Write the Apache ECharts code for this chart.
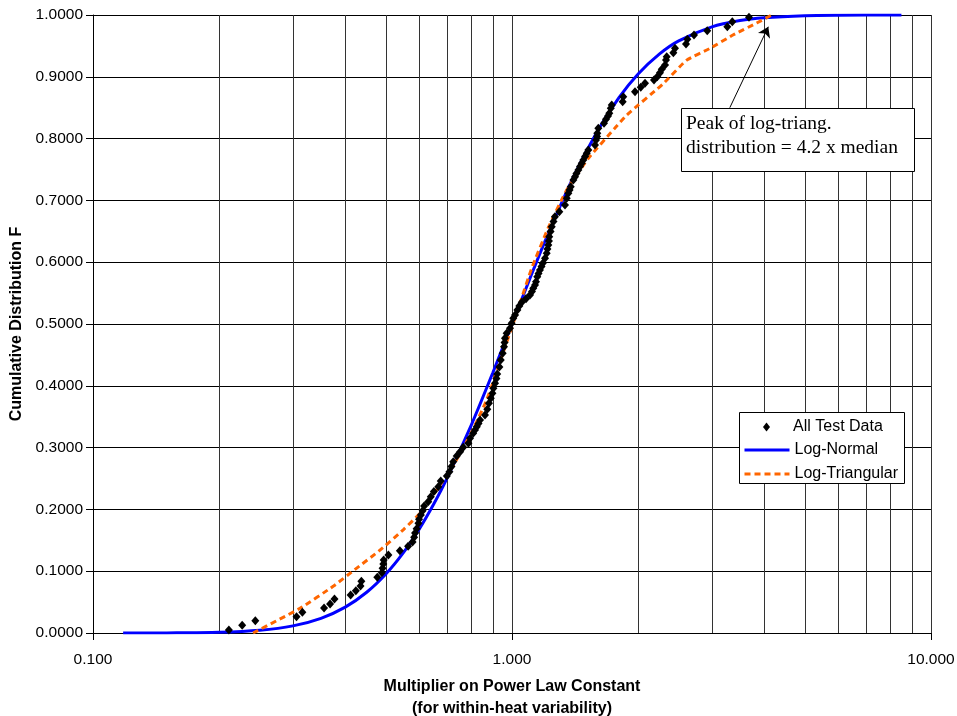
<!DOCTYPE html>
<html>
<head>
<meta charset="utf-8">
<script src="https://cdn.jsdelivr.net/npm/echarts@6/dist/echarts.min.js"></script>
<style>
html,body{margin:0;padding:0;background:#fff;}
#chart{width:957px;height:716px;}
</style>
</head>
<body>
<div id="chart"></div>
<script>
// ---- Data ----
const testX = [0.211,0.227,0.244,0.306,0.316,0.356,0.368,0.377,0.412,0.424,
0.435,0.437,0.477,0.489,0.491,0.493,0.494,0.507,0.540,0.565,
0.579,0.584,0.587,0.592,0.598,0.600,0.606,0.612,0.617,0.631,
0.640,0.651,0.667,0.676,0.699,0.709,0.717,0.724,0.738,0.752,
0.765,0.787,0.794,0.808,0.816,0.824,0.832,0.839,0.862,0.873,
0.881,0.890,0.898,0.903,0.911,0.918,0.922,0.933,0.940,0.950,
0.957,0.960,0.962,0.971,0.989,0.998,1.007,1.017,1.030,1.041,
1.055,1.080,1.104,1.116,1.124,1.135,1.141,1.149,1.157,1.166,
1.176,1.184,1.199,1.210,1.215,1.221,1.225,1.227,1.236,1.244,
1.256,1.266,1.297,1.338,1.351,1.363,1.372,1.381,1.401,1.414,
1.425,1.440,1.453,1.467,1.480,1.494,1.508,1.521,1.578,1.587,
1.596,1.598,1.607,1.658,1.676,1.695,1.707,1.721,1.730,1.837,
1.843,1.966,2.029,2.077,2.182,2.222,2.255,2.277,2.319,2.331,
2.340,2.427,2.449,2.602,2.621,2.719,2.924,3.265,3.356,3.678];
const testF = [0.0049,0.0125,0.0199,0.0264,0.0335,0.0405,0.0469,0.0550,0.0615,0.0684,
0.0761,0.0837,0.0901,0.0976,0.1047,0.1117,0.1181,0.1262,0.1332,0.1403,
0.1472,0.1549,0.1618,0.1688,0.1775,0.1840,0.1909,0.1979,0.2055,0.2125,
0.2205,0.2290,0.2367,0.2460,0.2540,0.2610,0.2694,0.2772,0.2864,0.2934,
0.3005,0.3070,0.3150,0.3231,0.3285,0.3338,0.3390,0.3447,0.3528,0.3620,
0.3717,0.3798,0.3879,0.3960,0.4040,0.4118,0.4191,0.4304,0.4417,0.4526,
0.4633,0.4701,0.4769,0.4850,0.4930,0.5011,0.5092,0.5146,0.5227,0.5290,
0.5350,0.5410,0.5469,0.5526,0.5578,0.5631,0.5684,0.5765,0.5817,0.5874,
0.5930,0.5982,0.6063,0.6144,0.6214,0.6278,0.6343,0.6413,0.6497,0.6574,
0.6659,0.6736,0.6817,0.6926,0.7034,0.7115,0.7168,0.7221,0.7330,0.7383,
0.7435,0.7492,0.7549,0.7600,0.7654,0.7710,0.7762,0.7816,0.7896,0.7977,
0.8034,0.8086,0.8167,0.8248,0.8312,0.8366,0.8409,0.8490,0.8544,0.8597,
0.8678,0.8759,0.8830,0.8895,0.8948,0.9002,0.9066,0.9121,0.9191,0.9272,
0.9325,0.9390,0.9461,0.9531,0.9607,0.9676,0.9746,0.9811,0.9891,0.9963];

const logNormalX = [0.118,0.15,0.2,0.25,0.3,0.35,0.4,0.45,0.5,0.55,0.6,0.65,0.7,0.8,0.9,1.0,
1.1,1.2,1.4,1.6,1.8,2.0,2.25,2.5,3.0,3.5,4.0,5.0,6.0,8.5];
const logNormalF = [0.0000,0.0002,0.0012,0.0045,0.0115,0.0238,0.0419,0.0659,0.0955,0.1297,0.1676,0.2082,0.2505,0.3369,0.4212,0.5000,
0.5713,0.6346,0.7373,0.8124,0.8663,0.9045,0.9370,0.9581,0.9809,0.9910,0.9955,0.9988,0.9996,1.0000];

const logTriX = [0.241,0.312,0.375,0.426,0.484,0.550,0.603,0.718,0.794,0.870,0.971,1.045,1.114,
1.221,1.351,1.521,1.761,1.878,2.297,2.612,2.969,3.375,3.837,4.167];
const logTriF = [0.000,0.040,0.076,0.105,0.134,0.167,0.194,0.267,0.320,0.377,0.470,0.534,0.590,
0.656,0.717,0.768,0.817,0.838,0.889,0.927,0.946,0.968,0.987,1.000];

const minorGridX = [0.2,0.3,0.4,0.5,0.6,0.7,0.8,0.9,2,3,4,5,6,7,8,9];
const arrowTail = [3.31, 0.850];
const arrowTip = [4.09, 0.981];

const xAxisTitle = 'Multiplier on Power Law Constant\n(for within-heat variability)';
const yAxisTitle = 'Cumulative Distribution F';
const noteText = 'Peak of log-triang.\ndistribution = 4.2 x median';

// ---- Build chart ----
const zip = (xs, ys) => xs.map((x, i) => [x, ys[i]]);
const SANS = '"Liberation Sans", Arial, sans-serif';
const SERIF = '"Liberation Serif", "Times New Roman", serif';

const chart = echarts.init(document.getElementById('chart'), null, {renderer: 'canvas'});
chart.setOption({
  animation: false,
  backgroundColor: '#fff',
  textStyle: {fontFamily: SANS, color: '#000'},
  grid: {left: 93, right: 26, top: 15, bottom: 83, containLabel: false, outerBoundsMode: 'none'},
  xAxis: {
    type: 'log', logBase: 10, min: 0.1, max: 10,
    name: xAxisTitle, nameLocation: 'middle', nameGap: 43,
    nameTextStyle: {fontFamily: SANS, fontWeight: 'bold', fontSize: 16, lineHeight: 21.5, color: '#000'},
    axisLine: {show: true, lineStyle: {color: '#000', width: 1}},
    axisTick: {show: true, inside: false, length: 7, lineStyle: {color: '#000'}},
    axisLabel: {fontFamily: SANS, fontSize: 15.5, color: '#000', margin: 19,
      formatter: v => Number(v).toFixed(3)},
    splitLine: {show: true, lineStyle: {color: '#333', width: 1}},
    minorTick: {show: false}, minorSplitLine: {show: false}
  },
  yAxis: {
    type: 'value', min: 0, max: 1, interval: 0.1,
    name: yAxisTitle, nameLocation: 'middle', nameGap: 65, nameRotate: 90,
    nameTextStyle: {fontFamily: SANS, fontWeight: 'bold', fontSize: 16, color: '#000'},
    axisLine: {show: true, lineStyle: {color: '#000', width: 1}},
    axisTick: {show: true, inside: false, length: 7, lineStyle: {color: '#000'}},
    axisLabel: {fontFamily: SANS, fontSize: 15.5, color: '#000', margin: 10,
      formatter: v => Number(v).toFixed(4)},
    splitLine: {show: true, lineStyle: {color: '#000', width: 1}}
  },
  legend: [
    {data: ['All Test Data'], left: 763, top: 419, orient: 'vertical', padding: 0,
     itemWidth: 7, itemHeight: 9, icon: 'diamond', selectedMode: false, z: 6,
     itemStyle: {opacity: 1},
     textStyle: {fontFamily: SANS, fontSize: 16, color: '#000', padding: [0, 0, 0, 18]}},
    {data: ['Log-Normal'], left: 743, top: 442, orient: 'vertical', padding: 0,
     itemWidth: 45, itemHeight: 14, selectedMode: false, z: 6,
     itemStyle: {opacity: 0, borderWidth: 0},
     lineStyle: {width: 3},
     textStyle: {fontFamily: SANS, fontSize: 16, color: '#000'}},
    {data: ['Log-Triangular'], left: 743, top: 466, orient: 'vertical', padding: 0,
     itemWidth: 45, itemHeight: 14, selectedMode: false, z: 6,
     itemStyle: {opacity: 0, borderWidth: 0},
     lineStyle: {width: 3},
     textStyle: {fontFamily: SANS, fontSize: 16, color: '#000'}}
  ],
  graphic: [
    {type: 'rect', z: 5, shape: {x: 739.5, y: 412.5, width: 165, height: 71},
     style: {fill: '#fff', stroke: '#000', lineWidth: 1}},
    {type: 'rect', z: 5, shape: {x: 681.5, y: 108.5, width: 233, height: 63},
     style: {fill: '#fff', stroke: '#000', lineWidth: 1}},
    {type: 'text', z: 6, x: 686, y: 112,
     style: {text: noteText, font: '19.5px ' + SERIF, fill: '#000', lineHeight: 24,
       verticalAlign: 'top', align: 'left'}}
  ],
  series: [
    {
      name: 'gridMinor', type: 'line', data: [], silent: true, z: 1,
      markLine: {
        silent: true, z: 1, symbol: ['none', 'none'], label: {show: false},
        lineStyle: {color: '#333', width: 1, type: 'solid'},
        emphasis: {disabled: true},
        data: minorGridX.map(v => ({xAxis: v}))
      }
    },
    {
      name: 'Log-Normal', type: 'line', data: zip(logNormalX, logNormalF),
      symbol: 'none', smooth: 0.3, z: 3,
      lineStyle: {color: '#0000FF', width: 3},
      itemStyle: {color: '#0000FF'}
    },
    {
      name: 'Log-Triangular', type: 'line', data: zip(logTriX, logTriF),
      symbol: 'none', smooth: 0.15, z: 3,
      lineStyle: {color: '#FF6600', width: 3, type: [6, 4]},
      itemStyle: {color: '#FF6600'}
    },
    {
      name: 'All Test Data', type: 'scatter', data: zip(testX, testF),
      symbol: 'diamond', symbolSize: [8, 9], z: 4,
      itemStyle: {color: '#000', opacity: 1},
      markLine: {
        silent: true, z: 7, label: {show: false}, emphasis: {disabled: true},
        symbol: ['none', 'arrow'], symbolSize: 10,
        lineStyle: {color: '#000', width: 1, type: 'solid'},
        data: [[{coord: arrowTail}, {coord: arrowTip}]]
      }
    }
  ]
});
</script>
</body>
</html>
